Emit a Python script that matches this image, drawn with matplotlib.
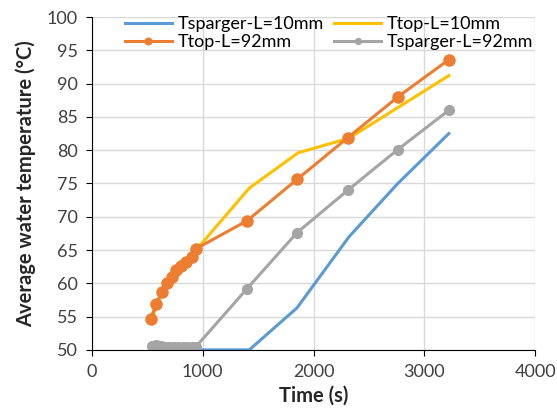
import matplotlib.pyplot as plt

plt.rcParams['font.family'] = ['Lato', 'DejaVu Sans']

# Tsparger-L=10mm
t_sp10 = [540, 1420, 1850, 2320, 2760, 3220]
y_sp10 = [50.0, 50.0, 56.3, 67.0, 75.0, 82.5]

# Ttop-L=10mm
t_top10 = [540, 590, 640, 690, 740, 790, 840, 890, 940, 1420, 1860, 2320, 3220]
y_top10 = [54.6, 56.9, 58.8, 60.0, 61.0, 62.0, 62.8, 63.6, 65.0, 74.3, 79.6, 81.8, 91.2]

# Ttop-L=92mm
t_top92 = [530, 580, 630, 680, 720, 760, 800, 850, 900, 940, 1400, 1850, 2310, 2760, 3220]
y_top92 = [54.6, 56.9, 58.7, 60.0, 61.0, 62.0, 62.6, 63.2, 64.0, 65.2, 69.4, 75.6, 81.9, 88.0, 93.6]

# Tsparger-L=92mm
t_sp92 = [540, 580, 620, 660, 700, 740, 780, 820, 860, 900, 940, 1400, 1850, 2310, 2760, 3220]
y_sp92 = [50.6, 50.8, 50.6, 50.5, 50.5, 50.5, 50.5, 50.5, 50.5, 50.5, 50.5, 59.2, 67.6, 74.0, 80.1, 86.0]

fig = plt.figure(figsize=(5.57, 4.16), dpi=100)
ax = fig.add_axes([0.165, 0.159, 0.796, 0.8])

l1, = ax.plot(t_sp10, y_sp10, color='#5B9BD5', lw=2.2, label='Tsparger-L=10mm')
l2, = ax.plot(t_top10, y_top10, color='#FFC000', lw=2.2, label='Ttop-L=10mm')
l3, = ax.plot(t_top92, y_top92, color='#ED7D31', lw=2.2, marker='o', ms=8,
              label='Ttop-L=92mm')
l4, = ax.plot(t_sp92, y_sp92, color='#A5A5A5', lw=2.2, marker='o', ms=7,
              label='Tsparger-L=92mm')

ax.set_xlim(0, 4000)
ax.set_ylim(50, 100)
ax.set_xticks(range(0, 4001, 1000))
ax.set_yticks(range(50, 101, 5))
ax.grid(color='#d9d9d9', lw=1)
ax.set_axisbelow(True)
for s in ['top', 'right']:
    ax.spines[s].set_visible(False)
ax.tick_params(labelsize=13, length=4, colors='#404040')
ax.tick_params(color='black')
ax.tick_params(axis='x', pad=6)
ax.tick_params(axis='y', pad=6)
ax.set_xlabel('Time (s)', fontsize=14.5, fontweight='bold', labelpad=4,
              color='#262626')
ax.set_ylabel('Average water temperature (°C)', fontsize=14.5, fontweight='bold',
              labelpad=8, color='#262626')

ax.legend(handles=[l1, l3, l2, l4], ncol=2, frameon=False, fontsize=13,
          loc='upper left', bbox_to_anchor=(0.05, 1.035), handlelength=2.6,
          columnspacing=0.6, labelspacing=0.1, handletextpad=0.3, markerscale=0.6,
          borderaxespad=0.2)

fig.savefig('out.png', dpi=100)
